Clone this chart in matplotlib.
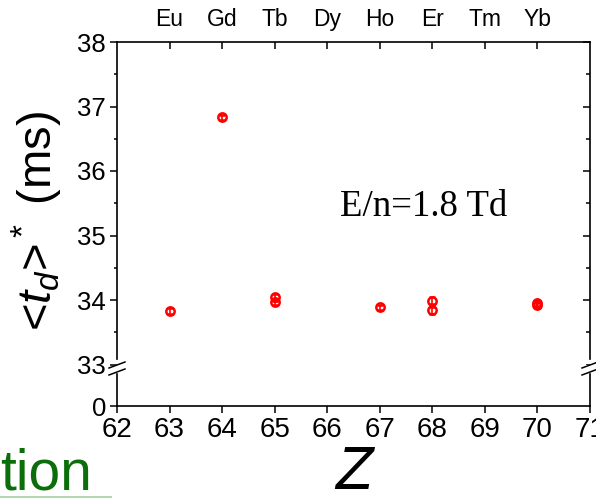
import matplotlib
matplotlib.use('Agg')
import matplotlib.pyplot as plt
from matplotlib.ticker import MultipleLocator

plt.rcParams['font.family'] = 'Liberation Sans'
plt.rcParams['mathtext.fontset'] = 'custom'
plt.rcParams['mathtext.rm'] = 'Liberation Sans'
plt.rcParams['mathtext.it'] = 'Liberation Sans:italic'

# datos: tiempo de deriva <t_d>* frente al numero atomico Z
Z = [63, 64, 65, 65, 67, 68, 68, 70, 70]
td = [33.83, 36.83, 34.04, 33.97, 33.89, 33.99, 33.84, 33.95, 33.92]
td_err = [0.04, 0.04, 0.05, 0.04, 0.04, 0.05, 0.05, 0.04, 0.04]

Z_elem = [63, 64, 65, 66, 67, 68, 69, 70]
elementos = ['Eu', 'Gd', 'Tb', 'Dy', 'Ho', 'Er', 'Tm', 'Yb']
x_ticks = list(range(62, 72))

W, H = 596, 501
fig = plt.figure(figsize=(W / 100, H / 100), dpi=100)

# eje partido: parte superior 33-38 y parte inferior con el 0
izq, der = 117 / W, 590 / W
y_top, y_rot, y_bot = 42, 364.5, 406
ax = fig.add_axes([izq, 1 - y_rot / H, der - izq, (y_rot - y_top) / H])
ax_b = fig.add_axes([izq, 1 - y_bot / H, der - izq, (y_bot - y_rot) / H])

ax.errorbar(Z, td, yerr=td_err, fmt='o', ms=6, mfc='none', mec='red',
            mew=1.8, ecolor='red', elinewidth=1.2, capsize=2.5, capthick=1.2)

ax.set_xlim(62, 71)
ax.set_ylim(33, 38)
ax.set_yticks([33, 34, 35, 36, 37, 38])
ax.yaxis.set_minor_locator(MultipleLocator(0.5))
ax.set_xticks([])
ax.spines['bottom'].set_visible(False)
ax.spines['left'].set_bounds(33.09, 38)
ax.spines['right'].set_bounds(33.09, 38)
for s in ax.spines.values():
    s.set_linewidth(1.2)
ax.tick_params(axis='y', which='major', direction='out', length=5, width=1.1,
               labelsize=18.5, pad=3)
ax.tick_params(axis='y', which='minor', direction='out', length=2.5, width=1.1)

# ticks del lado derecho hacia dentro
ax_r = ax.secondary_yaxis('right')
ax_r.set_yticks([34, 35, 36, 37, 38])
ax_r.yaxis.set_minor_locator(MultipleLocator(0.5))
ax_r.tick_params(which='major', direction='in', length=5, width=1.1, labelright=False)
ax_r.tick_params(which='minor', direction='in', length=3, width=1.1)
ax_r.spines['right'].set_visible(False)

# elementos en el eje superior
ax_t = ax.secondary_xaxis('top')
ax_t.set_xticks(Z_elem)
ax_t.set_xticklabels(elementos)
ax_t.tick_params(direction='in', length=5, width=1.1, labelsize=16.5, pad=8)
ax_t.spines['top'].set_visible(False)

ax.text(66.24, 35.3, 'E/n=1.8 Td', family='Liberation Serif', fontsize=26.5,
        va='baseline')

# parte inferior del eje
ax_b.set_xlim(62, 71)
ax_b.set_ylim(0, (y_bot - y_rot) / ((y_rot - y_top) / 5))
ax_b.set_yticks([0])
ax_b.set_xticks(x_ticks)
ax_b.spines['top'].set_visible(False)
ax_b.spines['left'].set_bounds(0, 0.5)
ax_b.spines['right'].set_bounds(0, 0.5)
for s in ax_b.spines.values():
    s.set_linewidth(1.2)
ax_b.tick_params(axis='y', direction='out', length=5, width=1.1, labelsize=18.5, pad=3)
ax_b.tick_params(axis='x', direction='out', length=5, width=1.1, labelsize=20, pad=3)
ax_b.set_xlabel('Z', fontsize=44, style='italic', labelpad=1.5)

# marcas de corte en ambos lados
for xf in (izq, der):
    for dy in (-2.5, 4.5):
        yc = 1 - (y_rot + 3 + dy) / H
        fig.add_artist(plt.Line2D([xf - 8 / W, xf + 8 / W],
                                  [yc - 3 / H, yc + 3 / H],
                                  color='black', lw=1.1))

fig.text(37 / W, 1 - 221 / H, '<$t_d$>$^*$ (ms)', rotation=90, fontsize=34,
         ha='center', va='center')

# resto del titulo verde de la diapositiva
fig.text(0, 1 - 489 / H, 'tion', fontsize=41, color='#0b6e0b',
         va='baseline')
fig.add_artist(plt.Line2D([0, 111 / W], [1 - 497 / H, 1 - 497 / H],
                          color='#a9d5a9', lw=1.3))

fig.savefig('out.png', dpi=100)
